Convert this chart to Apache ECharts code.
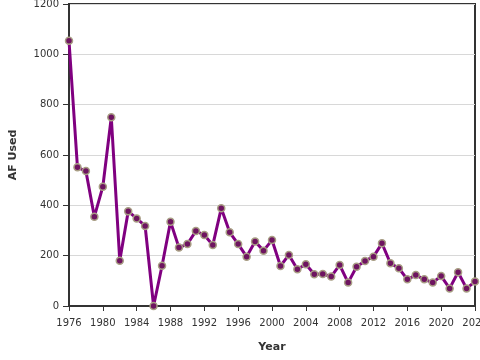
<!DOCTYPE html>
<html>
<head>
<meta charset="utf-8">
<script src="https://cdn.jsdelivr.net/npm/echarts@6/dist/echarts.min.js"></script>
<style>html,body{margin:0;padding:0;background:#fff}#c{width:480px;height:360px}</style>
</head>
<body>
<div id="c"></div>
<script>
const years = [1976,1977,1978,1979,1980,1981,1982,1983,1984,1985,1986,1987,1988,1989,1990,1991,1992,1993,1994,1995,1996,1997,1998,1999,2000,2001,2002,2003,2004,2005,2006,2007,2008,2009,2010,2011,2012,2013,2014,2015,2016,2017,2018,2019,2020,2021,2022,2023,2024];
const afUsed = [1054,551,536,355,474,750,180,376,348,318,0,160,335,232,246,298,282,242,388,293,246,196,256,220,262,159,203,146,166,126,127,117,163,93,156,179,196,249,170,150,106,123,106,93,119,70,134,70,97];
const xTicks = {min:1976, max:2024, interval:4};
const yTicks = {min:0, max:1200, interval:200};

const chart = echarts.init(document.getElementById('c'));
const font = 'DejaVu Sans';
chart.setOption({
  animation:false,
  grid:{left:69,right:5,top:4,bottom:54,containLabel:false,outerBoundsMode:'none',show:true,borderColor:'#333',borderWidth:2,backgroundColor:'transparent'},
  xAxis:{
    type:'value', min:xTicks.min, max:xTicks.max, interval:xTicks.interval,
    name:'Year', nameLocation:'middle', nameGap:36,
    nameTextStyle:{fontFamily:font,fontWeight:'bold',fontSize:11,color:'#333'},
    axisLine:{show:true,lineStyle:{color:'#333',width:2}},
    axisTick:{show:true,length:5,lineStyle:{color:'#333',width:1}},
    axisLabel:{fontFamily:font,fontSize:10,color:'#333',margin:12,hideOverlap:false,showMaxLabel:true,formatter:v=>String(v)},
    splitLine:{show:false}
  },
  yAxis:{
    type:'value', min:yTicks.min, max:yTicks.max, interval:yTicks.interval,
    name:'AF Used', nameLocation:'middle', nameGap:50,
    nameTextStyle:{fontFamily:font,fontWeight:'bold',fontSize:11,color:'#333'},
    axisLine:{show:true,lineStyle:{color:'#333',width:2}},
    axisTick:{show:true,length:6,lineStyle:{color:'#333',width:1}},
    axisLabel:{fontFamily:font,fontSize:10,color:'#333',margin:10,formatter:v=>String(v)},
    splitLine:{show:true,lineStyle:{color:'#d8d8d8',width:1}}
  },
  series:[{
    type:'line',
    data:years.map((y,i)=>[y,afUsed[i]]),
    lineStyle:{color:'#800080',width:3},
    symbol:'circle', symbolSize:7,
    itemStyle:{color:'#6e1460',borderColor:'#a89e84',borderWidth:1.5},
    z:3
  }]
});
</script>
</body>
</html>
